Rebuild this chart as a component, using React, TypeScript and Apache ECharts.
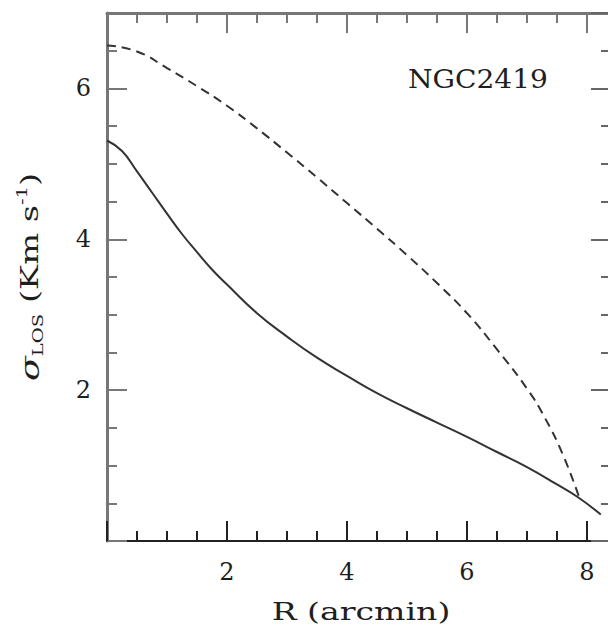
import React, { useEffect, useRef } from "react";
import * as echarts from "echarts";

// Solid curve: sigma_LOS vs R (arcmin)
const solidR = [0, 0.25, 0.5, 0.75, 1.0, 1.25, 1.5, 1.75, 2.0, 2.5, 3.0, 3.5, 4.0, 4.5, 5.0, 5.5, 6.0, 6.5, 7.0, 7.5, 7.85, 8.23];
const solidSigma = [5.31, 5.17, 4.9, 4.62, 4.34, 4.07, 3.83, 3.6, 3.4, 3.02, 2.71, 2.43, 2.19, 1.96, 1.76, 1.57, 1.38, 1.18, 0.98, 0.75, 0.58, 0.35];

// Dashed curve
const dashedR = [0, 0.5, 1.0, 1.5, 2.0, 2.5, 3.0, 3.5, 4.0, 4.5, 5.0, 5.5, 6.0, 6.5, 7.0, 7.3, 7.6, 7.86];
const dashedSigma = [6.57, 6.49, 6.27, 6.03, 5.77, 5.47, 5.15, 4.82, 4.48, 4.14, 3.79, 3.42, 3.02, 2.54, 2.02, 1.63, 1.14, 0.6];

const xLabels = [2, 4, 6, 8];
const yLabels = [2, 4, 6];
const xMin = 0;
const xMax = 8.4;
const yMin = 0;
const yMax = 7;

const FONT = '"DejaVu Serif", "Liberation Serif", serif';
const LINE = "#333333";
const TEXT = "#1e1e1e";

export default function App() {
  const ref = useRef<HTMLDivElement>(null);

  useEffect(() => {
    if (!ref.current) return;
    const chart = echarts.init(ref.current, null, { renderer: "svg" });

    const mk = (r: number[], s: number[]) => r.map((v, i) => [v, s[i]]);

    const baseX = (position: string, interval: number, len: number, showLine: boolean, labels: boolean, color: string, width: number) => ({
      type: "value",
      position,
      min: xMin,
      max: xMax,
      interval,
      splitLine: { show: false },
      axisLine: { show: showLine, onZero: false, lineStyle: { color, width } },
      axisTick: { show: true, inside: true, length: len, lineStyle: { color, width: 2 } },
      axisLabel: {
        show: labels,
        margin: 19,
        fontFamily: FONT,
        fontSize: 24,
        color: TEXT,
        formatter: (v: number) => (xLabels.includes(Math.round(v * 1000) / 1000) ? String(v) : ""),
      },
    });

    const baseY = (position: string, interval: number, len: number, showLine: boolean, labels: boolean, color: string, width: number) => ({
      type: "value",
      position,
      min: yMin,
      max: yMax,
      interval,
      splitLine: { show: false },
      axisLine: { show: showLine, onZero: false, lineStyle: { color, width } },
      axisTick: { show: true, inside: true, length: len, lineStyle: { color, width: 2 } },
      axisLabel: {
        show: labels,
        margin: 16,
        fontFamily: FONT,
        fontSize: 24,
        color: TEXT,
        formatter: (v: number) => (yLabels.includes(Math.round(v * 1000) / 1000) ? String(v) : ""),
      },
    });

    chart.setOption({
      animation: false,
      backgroundColor: "#ffffff",
      grid: { left: 107, top: 13, width: 504, height: 528, containLabel: false },
      xAxis: [
        baseX("bottom", 0.5, 10, true, false, "#222", 2),
        baseX("bottom", 2, 20, false, true, "#222", 2),
        baseX("top", 0.5, 10, true, false, "#777", 3),
        baseX("top", 2, 20, false, false, "#777", 3),
      ],
      yAxis: [
        baseY("left", 0.5, 10, true, false, "#777", 3),
        baseY("left", 2, 20, false, true, "#777", 3),
        baseY("right", 0.5, 10, true, false, "#666", 2),
        baseY("right", 2, 20, false, false, "#666", 2),
      ],
      series: [
        {
          type: "line",
          xAxisIndex: 0,
          yAxisIndex: 0,
          data: mk(dashedR, dashedSigma),
          smooth: 0.5,
          showSymbol: false,
          symbol: "none",
          lineStyle: { color: LINE, width: 2, type: [9, 6] },
        },
        {
          type: "line",
          xAxisIndex: 0,
          yAxisIndex: 0,
          data: mk(solidR, solidSigma),
          smooth: 0.5,
          showSymbol: false,
          symbol: "none",
          lineStyle: { color: LINE, width: 2 },
        },
      ],
      graphic: [
        {
          type: "text",
          x: 478,
          y: 79,
          scaleX: 1.08,
          style: {
            text: "NGC2419",
            x: 0,
            y: 0,
            fontFamily: FONT,
            fontSize: 26,
            fill: TEXT,
            align: "center",
            verticalAlign: "middle",
          },
        },
        {
          type: "text",
          x: 361,
          y: 612,
          scaleX: 1.38,
          style: {
            text: "R (arcmin)",
            x: 0,
            y: 0,
            fontFamily: FONT,
            fontSize: 24,
            fill: TEXT,
            align: "center",
            verticalAlign: "middle",
          },
        },
        {
          type: "text",
          x: 30,
          y: 277,
          rotation: Math.PI / 2,
          scaleX: 1.4,
          style: {
            text: "{s|σ}{sub|LOS} {n|(Km s}{sup|-1}{n|)}",
            x: 0,
            y: 0,
            fontFamily: FONT,
            fontSize: 24,
            fill: TEXT,
            align: "center",
            verticalAlign: "middle",
            rich: {
              s: { fontFamily: FONT, fontSize: 26, fontStyle: "italic", fill: TEXT, lineHeight: 30 },
              sub: { fontFamily: FONT, fontSize: 14, fill: TEXT, verticalAlign: "bottom", lineHeight: 14, padding: [12, 0, 0, 0] },
              n: { fontFamily: FONT, fontSize: 24, fill: TEXT, lineHeight: 30 },
              sup: { fontFamily: FONT, fontSize: 14, fill: TEXT, verticalAlign: "top", lineHeight: 14 },
            },
          },
        },
      ],
    });

    return () => chart.dispose();
  }, []);

  return (
    <div style={{ position: "absolute", left: 0, top: 0, width: 608, height: 631, overflow: "hidden", background: "#fff" }}>
      <div ref={ref} style={{ width: 620, height: 631 }} />
    </div>
  );
}
